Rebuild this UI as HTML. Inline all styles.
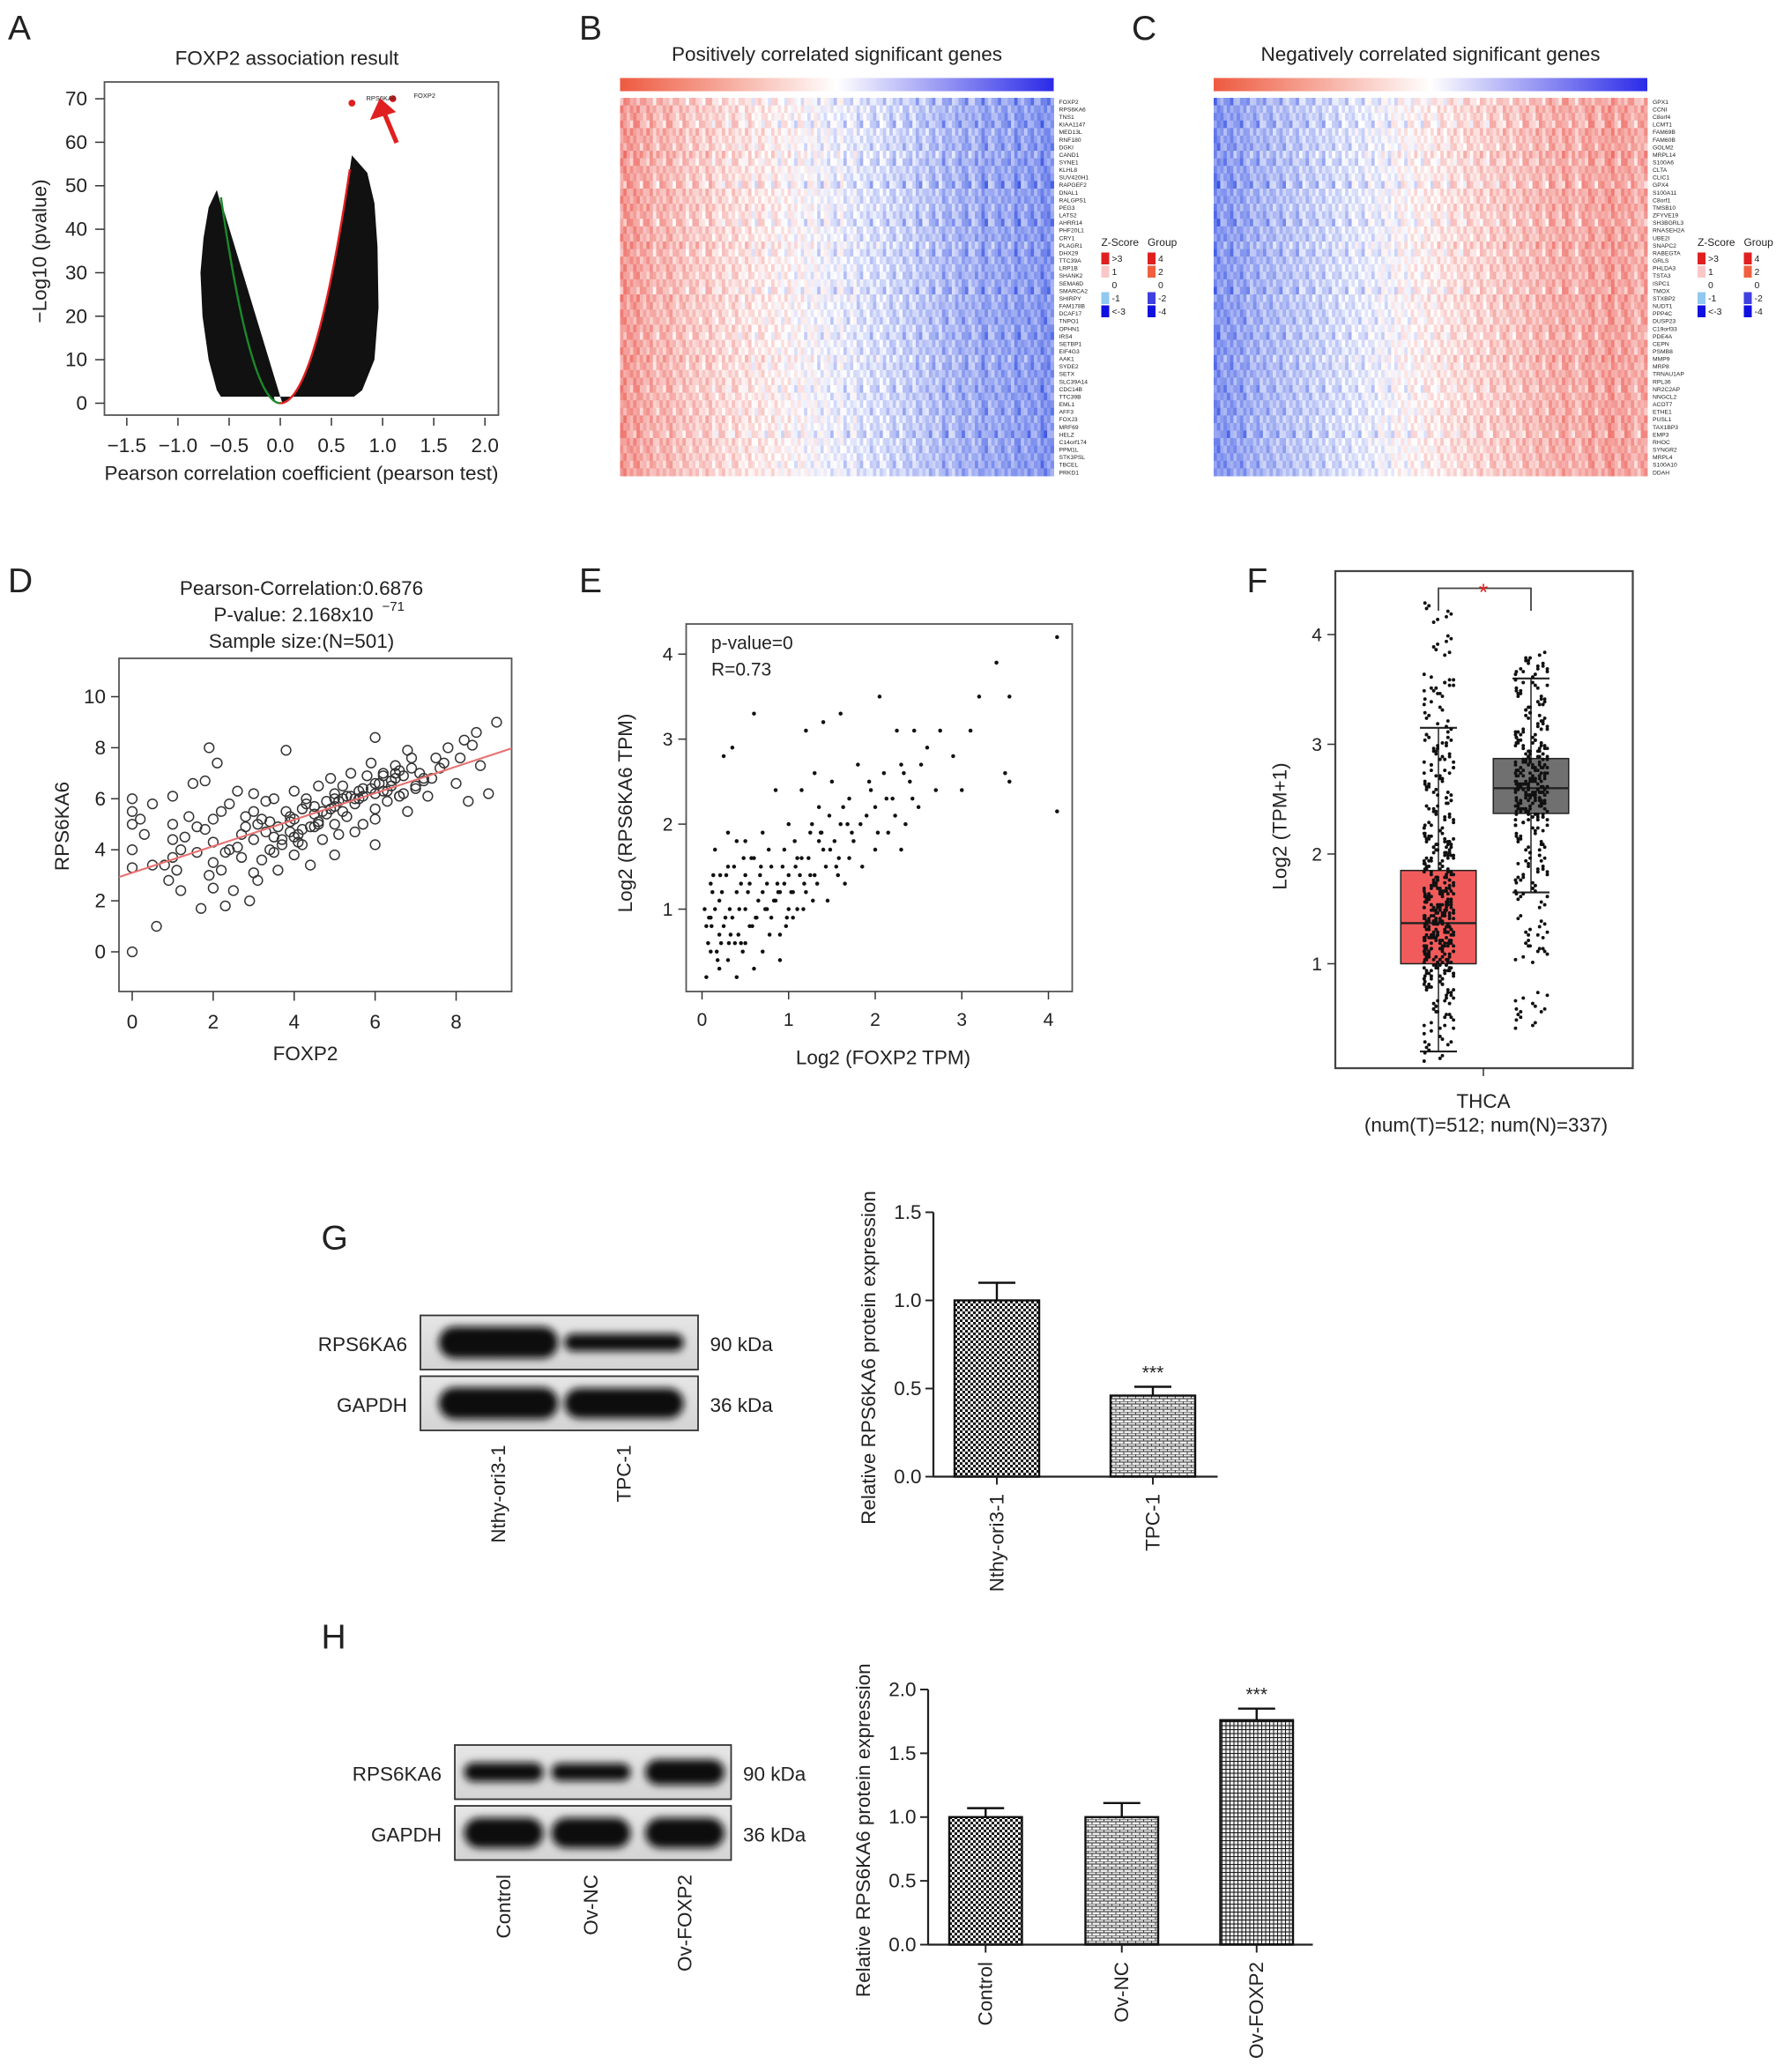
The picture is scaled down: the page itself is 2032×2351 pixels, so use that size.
<!DOCTYPE html>
<html><head><meta charset="utf-8"><style>
html,body{margin:0;padding:0;background:#fff}
svg{display:block}
text{font-family:"Liberation Sans",sans-serif;fill:#222}
</style></head><body>
<svg id="fig" xmlns="http://www.w3.org/2000/svg" width="2032" height="2351" viewBox="0 0 1354.67 1567.33" preserveAspectRatio="none">
<defs>
<filter id="blur" x="-20%" y="-50%" width="140%" height="200%"><feGaussianBlur stdDeviation="3"/></filter>
<pattern id="pat-check" width="4" height="4" patternUnits="userSpaceOnUse"><rect width="4" height="4" fill="#fff"/><rect width="2" height="2" fill="#111"/><rect x="2" y="2" width="2" height="2" fill="#111"/></pattern>
<pattern id="pat-brick" width="6" height="4" patternUnits="userSpaceOnUse"><rect width="6" height="4" fill="#eee"/><path d="M0 0H6M0 2H6M1 0V2M4 2V4" stroke="#444" stroke-width="0.7"/></pattern>
<pattern id="pat-grid" width="3" height="3" patternUnits="userSpaceOnUse"><rect width="3" height="3" fill="#eee"/><path d="M0 0H3M0 0V3" stroke="#111" stroke-width="1.3"/></pattern>
<linearGradient id="grad-bar" x1="0" x2="1"><stop offset="0" stop-color="#ee5a40"/><stop offset="0.5" stop-color="#fff"/><stop offset="1" stop-color="#2a2ae8"/></linearGradient>
<linearGradient id="blot-bg" x1="0" x2="0" y1="0" y2="1"><stop offset="0" stop-color="#e6e6e6"/><stop offset="1" stop-color="#d4d4d4"/></linearGradient>
</defs>
<g id="root"></g>
</svg>
<script>
// ---------- DATA ----------
const volcLeftOuter = [[-0.62,49],[-0.7,45],[-0.75,38],[-0.78,30],[-0.76,20],[-0.7,10],[-0.62,3],[-0.58,1.5]];
const volcRightOuter = [[0.85,53],[0.92,46],[0.95,36],[0.96,22],[0.92,10],[0.8,3],[0.72,1.5]];
const volcTopPoints = [[0.7,69],[1.1,70]];
const heatColsB = [1.5,1.3,1.4,1.1,1.2,0.9,1.0,1.1,0.8,0.9,0.7,0.8,0.6,0.8,0.5,0.6,0.4,0.6,0.3,0.5,0.2,0.4,0.2,0.3,0.1,0.2,0.0,0.1,-0.1,0.0,-0.2,-0.1,-0.3,-0.1,-0.4,-0.2,-0.5,-0.3,-0.6,-0.4,-0.5,-0.7,-0.5,-0.8,-0.6,-0.9,-0.7,-1.0,-0.8,-1.2,-0.9,-1.1,-1.3,-1.0,-1.2,-1.5,-1.1,-1.3,-1.4,-1.2,-1.6,-1.3,-1.5,-1.4,-1.7,-1.5];
const heatColsC = [-1.7,-1.4,-1.5,-1.3,-1.4,-1.1,-1.2,-1.0,-1.1,-0.9,-1.0,-0.8,-0.9,-0.7,-0.8,-0.6,-0.7,-0.5,-0.6,-0.4,-0.5,-0.3,-0.4,-0.2,-0.3,-0.1,-0.2,0.0,0.1,0.0,0.2,0.1,0.3,0.2,0.4,0.3,0.5,0.4,0.6,0.5,0.7,0.5,0.8,0.6,0.9,0.7,0.8,1.0,0.8,1.1,0.9,1.2,1.0,1.3,1.1,0.9,1.2,1.4,1.0,1.3,1.5,1.1,1.4,1.2,1.0,1.3];
const heatRows = [0.3,-0.2,0.1,0.4,-0.3,0.0,0.2,-0.4,0.3,-0.1,0.1,0.5,-0.2,0.0,-0.3,0.2,0.4,-0.1,0.1,-0.4,0.3,0.0,-0.2,0.2,-0.1,0.4,-0.3,0.1,0.0,0.2,-0.2,0.3,-0.1,0.1,-0.4,0.2,0.0,-0.2,0.3,0.1,-0.1,0.2,-0.3,0.0,0.4,-0.2,0.1,-0.1,0.2,0.0];
const genesB = ["FOXP2","RPS6KA6","TNS1","KIAA1147","MED13L","RNF180","DGKI","CAND1","SYNE1","KLHL8","SUV420H1","RAPGEF2","DNAL1","RALGPS1","PEG3","LATS2","AHRR14","PHF20L1","CRY1","PLAGR1","DHX29","TTC39A","LRP1B","SHANK2","SEMA6D","SMARCA2","SHIRPY","FAM178B","DCAF17","TNPO1","OPHN1","IRS4","SETBP1","EIF4G3","AAK1","SYDE2","SETX","SLC39A14","CDC14B","TTC39B","EML1","AFF3","FOXJ3","MRF69","HELZ","C14orf174","PPM1L","STK3PSL","TBCEL","PRKD1"];
const genesC = ["GPX1","CCNI","C8orf4","LCMT1","FAM69B","FAM60B","GOLM2","MRPL14","S100A6","CLTA","CLIC1","GPX4","S100A11","C8orf1","TMSB10","ZFYVE19","SH3BGRL3","RNASEH2A","UBE2I","SNAPC2","RABEGTA","GRLS","PHLDA3","TSTA3","ISPC1","TMOX","STXBP2","NUDT1","PPP4C","DUSP23","C19orf33","PDE4A","CEPN","PSMB8","MMP9","MRP8","TRNAU1AP","RPL36","NR2C2AP","NNGCL2","ACOT7","ETHE1","PUSL1","TAX1BP3","EMP3","RHOC","SYNGR2","MRPL4","S100A10","DDAH"];
const scatD_x = [0,0,0,0,0,0,0.3,0.5,0.6,0.5,0.9,1,1,1,1,1.2,1.2,1.4,1.5,1.6,1.7,1.8,1.8,1.9,2,2,2,2,2.1,2.2,2.3,2.4,2.4,2.5,2.6,2.7,2.8,2.9,3,3,3,3,3.1,3.2,3.3,3.4,3.5,3.6,3.7,3.8,3.8,3.9,4,4,4,4.1,4.2,4.3,4.4,4.5,4.5,4.6,4.7,4.8,4.9,5,5,5,5,5.1,5.2,5.3,5.4,5.5,5.5,5.6,5.7,5.8,5.9,6,6,6,6,6.1,6.2,6.3,6.4,6.5,6.5,6.6,6.7,6.8,6.9,7,7.1,7.3,7.5,7.8,8,8.2,8.4,8.6,8.8,9,8.3,4.2,3.5,4.8,5.6,6.2,2.6,1.6,3.3,4.6,5.2,5.9,6.6,7.2,3.9,4.4,5.3,6.4,2.8,0.2,
 3.4,3.6,3.9,4.1,4.3,4.6,4.9,5.1,5.4,5.7,6.0,6.3,6.6,6.9,7.2,3.2,3.7,4.2,4.7,5.2,5.7,6.2,6.7,7.4,7.7,2.3,2.7,3.1,3.5,4.0,4.5,5.0,5.5,6.0,6.5,1.3,1.9,2.2,7.0,7.6,8.1,8.5,0.8,1.1,6.8];
const scatD_y = [0,3.3,4,5,5.5,6,4.6,5.8,1,3.4,2.8,3.7,4.4,5,6.1,2.4,4,5.3,6.6,3.9,1.7,4.8,6.7,8,2.5,3.5,4.3,5.2,7.4,3.2,1.8,4,5.8,2.4,6.3,3.7,4.9,2,3.1,4.4,5.5,6.2,2.8,3.6,4.7,5.1,6,3.2,4.2,5.5,7.9,4.7,3.8,5.2,6.3,4.3,5.6,6,3.4,4.9,5.4,6.5,4.4,5.9,6.8,3.8,5,5.7,6.2,4.6,6.5,5.3,7,4.7,5.8,6.3,5,6.9,7.4,4.2,5.6,6.2,8.4,6.6,7,5.9,6.5,7.3,6.8,6.1,6.9,5.5,7.6,6.4,7,6.1,7.6,8,6.6,8.3,8.1,7.3,6.2,9,5.9,4.2,4.5,5.4,6,6.3,4.1,4.9,5.9,5.1,5.5,6.4,6.1,6.8,5.1,4.9,6.1,6.7,5.3,5.2,
 4.0,4.9,5.3,4.6,5.8,5.0,5.6,5.9,6.1,6.4,6.6,6.3,7.1,7.2,6.7,5.2,4.4,4.8,5.5,6.0,6.1,6.9,6.2,6.8,7.4,3.9,4.6,5.0,3.9,4.5,5.7,6.0,6.0,5.2,7.0,4.5,3.0,5.5,6.5,7.2,7.6,8.6,3.4,3.2,7.9];
const corrLine = [3.1,0.52];
const scatE_x = [0.05,0.1,0.1,0.1,0.15,0.2,0.2,0.25,0.3,0.3,0.35,0.35,0.4,0.4,0.45,0.5,0.5,0.55,0.6,0.6,0.65,0.7,0.7,0.75,0.8,0.8,0.85,0.9,0.9,0.95,1,1,1,1.05,1.1,1.15,1.2,1.2,1.25,1.3,1.35,1.4,1.4,1.45,1.5,1.55,1.6,1.6,1.65,1.7,1.75,1.8,1.85,1.9,1.95,2,2,2.05,2.1,2.15,2.2,2.25,2.3,2.35,2.4,2.45,2.5,2.6,2.7,2.75,2.9,3,3.1,3.2,3.4,3.55,3.5,3.55,4.1,4.1,0.2,0.4,0.5,0.6,0.15,0.3,0.5,0.7,1.1,1.3,1.7,2.3,0.9,0.25,0.45,0.05,0.12,0.22,0.32,0.42,0.55,0.62,0.75,0.85,0.95,1.05,1.15,1.25,1.35,0.08,0.18,0.28,0.38,0.48,0.58,0.68,0.78,0.88,0.98,1.08,1.18,1.28,1.38,1.48,1.58,1.68,
 0.03,0.07,0.13,0.17,0.23,0.27,0.33,0.37,0.43,0.47,0.53,0.57,0.63,0.67,0.73,0.77,0.83,0.87,0.93,0.97,1.03,1.07,1.13,1.17,1.23,1.27,1.33,1.37,1.43,1.47,1.53,1.57,1.63,1.73,1.83,1.93,2.03,2.13,2.23,2.33,2.43,2.53,0.11,0.21,0.31];
const scatE_y = [0.2,0.5,0.9,1.3,1.7,0.7,1.1,2.8,0.4,1.5,0.9,2.9,1.2,1.8,0.6,1,1.4,0.8,3.3,1.6,1.1,0.5,1.9,1.3,0.9,1.5,2.4,1.2,0.7,1.7,1,2,1.4,0.9,1.6,2.4,1.2,3.1,1.9,1.4,2.2,3.2,1.7,1.1,2.5,1.5,2,3.3,1.3,2.3,1.8,2.7,1.5,2.1,2.4,1.7,2.2,3.5,2.6,1.9,2.3,3.1,2.7,2,2.5,3.1,2.2,2.9,2.4,3.1,2.8,2.4,3.1,3.5,3.9,3.5,2.6,2.5,4.2,2.15,0.3,0.2,0.6,0.3,1.0,1.9,1.8,1.2,1,2.6,1.6,1.7,0.4,0.8,1.3,0.8,1.2,0.6,1.0,0.7,1.3,0.9,1.0,1.1,1.3,1.2,1.6,1.4,1.8,0.9,0.4,1.4,0.6,1.6,0.8,1.5,0.7,1.2,0.9,1.5,1.3,1.1,1.9,1.7,1.6,2.0,
 1.0,0.6,1.4,0.5,1.2,0.9,0.7,1.5,1.0,0.5,1.2,1.6,0.9,1.4,1.0,1.7,1.1,1.3,1.5,0.8,1.2,1.8,1.4,1.0,1.6,2.0,1.3,1.9,1.5,2.1,1.8,1.4,2.2,1.9,2.0,2.5,1.9,2.3,2.1,2.6,2.3,2.7,0.8,1.4,0.6];
const boxCats = ["Tumor","Normal"];
const boxQ1 = [1.0,2.37], boxMed=[1.37,2.6], boxQ3=[1.85,2.87], boxLo=[0.2,1.65], boxHi=[3.15,3.6];
const jitT = [0.2,0.35,0.5,0.6,0.7,0.8,0.85,0.9,0.95,1.0,1.05,1.1,1.15,1.2,1.25,1.3,1.35,1.4,1.45,1.5,1.55,1.6,1.65,1.7,1.75,1.8,1.85,1.9,1.95,2.0,2.05,2.1,2.15,2.2,2.3,2.4,2.5,2.6,2.7,2.8,2.9,3.0,3.1,3.3,3.5,3.55,3.9,4.2,1.1,1.2,1.3,1.4,1.5,1.6,1.0,0.9,1.7,1.25,1.35,1.45];
const jitN = [0.5,0.65,1.1,1.2,1.35,1.6,1.7,1.8,1.9,2.0,2.1,2.2,2.3,2.35,2.4,2.45,2.5,2.55,2.6,2.65,2.7,2.75,2.8,2.85,2.9,2.95,3.0,3.05,3.1,3.2,3.3,3.4,3.5,3.6,3.7,3.75,2.5,2.6,2.7,2.4,2.8,2.55,2.65];
const jitOff = [-0.9,0.4,-0.3,0.8,-0.6,0.1,0.95,-0.15,0.5,-0.75,0.25,-0.45,0.7,-0.05,0.6,-0.85];
const gCats = ["Nthy-ori3-1","TPC-1"], gVals=[1.0,0.46], gErr=[0.1,0.05], gTicks=[0,0.5,1.0,1.5];
const hCats = ["Control","Ov-NC","Ov-FOXP2"], hVals=[1.0,1.0,1.76], hErr=[0.07,0.11,0.09], hTicks=[0,0.5,1.0,1.5,2.0];
const blotG_RPS = [1.0,0.55], blotG_GAP=[1.0,0.95];
const blotH_RPS = [0.6,0.55,0.8], blotH_GAP=[0.95,0.95,0.95];

// ---------- HELPERS ----------
const NS="http://www.w3.org/2000/svg";
const root=document.getElementById('root');
function mk(tag,attrs,parent,txt){const e=document.createElementNS(NS,tag);for(const k in attrs)e.setAttribute(k,attrs[k]);if(txt!==undefined)e.textContent=txt;(parent||root).appendChild(e);return e;}
function grp(name){const g=mk('g',{});


return g;}
function label(t,x,y,size,opts,parent,name){const e=mk('text',Object.assign({x:x,y:y,'font-size':size},opts||{}),parent,t);


return e;}
function lin(d0,d1,r0,r1){return v=>r0+(v-d0)*(r1-r0)/(d1-d0);}

[["A",6,30],["B",438,30],["C",856,30],["D",6,448],["E",438,448],["F",943,448],["G",243,945],["H",243,1247]].forEach(p=>{
 label(p[0],p[1],p[2],26,{},root,'panel-letter-'+p[0].toLowerCase());
});

// ---------- PANEL A ----------
(function(){
 const g=grp('volcano-plot');
 const X=lin(0,0.5,212,250.7), Y=lin(0,10,305,272.1);
 label("FOXP2 association result",217,49,15,{'text-anchor':'middle'},g,'volcano-title');
 const box=mk('rect',{x:79,y:62,width:298,height:252,fill:'none',stroke:'#555','stroke-width':1.2},g);
 
 [-1.5,-1.0,-0.5,0,0.5,1.0,1.5,2.0].forEach(v=>{mk('line',{x1:X(v),x2:X(v),y1:316,y2:322,stroke:'#333'},g);
  label((v<0?'\u2212':'')+Math.abs(v).toFixed(1),X(v),342,15,{'text-anchor':'middle'},g,'x-tick-label');});
 [0,10,20,30,40,50,60,70].forEach(v=>{mk('line',{x1:72,x2:79,y1:Y(v),y2:Y(v),stroke:'#333'},g);
  label(String(v),66,Y(v)+5,15,{'text-anchor':'end'},g,'y-tick-label');});
 label("Pearson correlation coefficient (pearson test)",228,363,15,{'text-anchor':'middle'},g,'x-axis-title');
 label("\u2212Log10 (pvalue)",35,190,15,{'text-anchor':'middle',transform:'rotate(-90 35 190)'},g,'y-axis-title');
 const gl=[-0.59,49], kl=gl[1]/(gl[0]*gl[0]);
 let pts=volcLeftOuter.map(p=>X(p[0])+','+Y(p[1]));
 for(let v=-0.05;v>=-0.59;v-=0.04){pts.unshift(X(v)+','+Y(kl*v*v));}
 pts.push(X(0)+','+Y(1.5));
 const pl=mk('polygon',{points:pts.join(' '),fill:'#111'},g);
 const kr=57/(0.7*0.7);
 let pr=volcRightOuter.map(p=>X(p[0])+','+Y(p[1]));
 for(let v=0.7;v>=0;v-=0.04){pr.unshift(X(v)+','+Y(kr*v*v));}
 pr.push(X(0)+','+Y(1.5));
 const pp=mk('polygon',{points:pr.join(' '),fill:'#111'},g);
 let dg='',dr='';
 for(let v=0;v>=-0.59;v-=0.02)dg+=(dg?'L':'M')+X(v)+' '+Y(kl*v*v);
 for(let v=0;v<=0.7;v+=0.02)dr+=(dr?'L':'M')+X(v)+' '+Y(kr*v*v);
 const c1=mk('path',{d:dg,stroke:'#1a8a2a','stroke-width':1.6,fill:'none'},g);
 const c2=mk('path',{d:dr,stroke:'#e02020','stroke-width':1.6,fill:'none'},g);
 volcTopPoints.forEach(p=>{const c=mk('circle',{cx:X(p[0]),cy:Y(p[1]),r:2.6,fill:'#e02020'},g);
  });
 label("RPS6KA6",277,76,5,{},g,'gene-label-rps6ka6');label("FOXP2",313,74,5,{},g,'gene-label-foxp2');
 const ar=mk('path',{d:'M300 108 L290 84 M283 88 L288 77 L296 84 Z',stroke:'#e02020','stroke-width':3.5,fill:'#e02020'},g);
 
})();

// ---------- HEATMAPS ----------
function heat(name,x0,title,cols,genes,legendX){
 const g=grp(name);
 const w=328, y0=74, h=286;
 label(title,x0+w/2,46,15,{'text-anchor':'middle'},g,'heatmap-title');
 const cb=mk('rect',{x:x0,y:59,width:w,height:10,fill:'url(#grad-bar)'},g);
 const nc=cols.length*2, cw=w/nc, rh=h/heatRows.length;
 function col(z){z=Math.max(-2.2,Math.min(2.2,z));const t=Math.abs(z)/2.2;
  if(z>=0)return `rgb(${Math.round(255-(255-232)*t)},${Math.round(255-(255-60)*t)},${Math.round(255-(255-50)*t)})`;
  return `rgb(${Math.round(255-(255-40)*t)},${Math.round(255-(255-70)*t)},${Math.round(255-(255-225)*t)})`;}
 for(let r=0;r<heatRows.length;r++)for(let c=0;c<nc;c++){
  const base=cols[c>>1];
  const k=(c*7+r*3)%5;
  const z=base+heatRows[r]*((k%3)-1)+(k-2)*0.18;
  const e=mk('rect',{x:x0+c*cw,y:y0+r*rh,width:cw+0.3,height:rh+0.3,fill:col(z*0.8)},g);
  
  
 }
 genes.forEach((s,i)=>label(s,x0+w+4,y0+i*rh+rh*0.8,4.5,{},g,'gene-label'));
 label("Z-Score",legendX,186,8,{},g,'zscore-legend-title');label("Group",legendX+35,186,8,{},g,'group-legend-title');
 const zc=['#e02020','#f8c8c8','#ffffff','#90c8f0','#1010e0'], gc=['#e02020','#f06040','#ffffff','#4040e0','#1010e0'];
 const zl=['>3','1','0','-1','<-3'], gl2=['4','2','0','-2','-4'];
 zc.forEach((c,i)=>{const r=mk('rect',{x:legendX,y:191+i*10,width:6,height:9,fill:c},g);
  label(zl[i],legendX+8,198+i*10,7,{},g,'zscore-legend-label');});
 gc.forEach((c,i)=>{const r=mk('rect',{x:legendX+35,y:191+i*10,width:6,height:9,fill:c},g);
  label(gl2[i],legendX+43,198+i*10,7,{},g,'group-legend-label');});
}
heat('positive-heatmap',469,"Positively correlated significant genes",heatColsB,genesB,833);
heat('negative-heatmap',918,"Negatively correlated significant genes",heatColsC,genesC,1284);

// ---------- PANEL D ----------
(function(){
 const g=grp('scatter-d');
 const X=lin(0,2,100,161.25), Y=lin(0,2,720,681.4);
 label("Pearson-Correlation:0.6876",228,450,15,{'text-anchor':'middle'},g,'correlation-title');
 label("P-value: 2.168x10",222,470,15,{'text-anchor':'middle'},g,'pvalue-title');
 label("\u221271",289,462,10,{},g,'pvalue-exponent');
 label("Sample size:(N=501)",228,490,15,{'text-anchor':'middle'},g,'sample-size-title');
 const b=mk('rect',{x:90,y:498,width:297,height:252,fill:'none',stroke:'#555','stroke-width':1.2},g);
 [0,2,4,6,8,10].forEach(v=>{mk('line',{x1:84,x2:90,y1:Y(v),y2:Y(v),stroke:'#333'},g);label(String(v),80,Y(v)+5,15,{'text-anchor':'end'},g,'y-tick-label');});
 [0,2,4,6,8].forEach(v=>{mk('line',{x1:X(v),x2:X(v),y1:750,y2:757,stroke:'#333'},g);label(String(v),X(v),778,15,{'text-anchor':'middle'},g,'x-tick-label');});
 label("FOXP2",231,802,15,{'text-anchor':'middle'},g,'x-axis-title');
 label("RPS6KA6",52,625,15,{'text-anchor':'middle',transform:'rotate(-90 52 625)'},g,'y-axis-title');
 scatD_x.forEach((x,i)=>{const c=mk('circle',{cx:X(x),cy:Y(scatD_y[i]),r:3.6,fill:'none',stroke:'#333','stroke-width':1},g);
  });
 const l=mk('line',{x1:90,y1:Y(corrLine[0]+corrLine[1]*((90-100)/30.625)),x2:387,y2:Y(corrLine[0]+corrLine[1]*((387-100)/30.625)),stroke:'#e87070','stroke-width':1.4},g);
 
})();

// ---------- PANEL E ----------
(function(){
 const g=grp('scatter-e');
 const X=lin(0,1,531,596.5), Y=lin(0,1,752,687.7);
 const b=mk('rect',{x:519,y:472,width:292,height:278,fill:'none',stroke:'#555','stroke-width':1.2},g);
 [1,2,3,4].forEach(v=>{mk('line',{x1:513,x2:519,y1:Y(v),y2:Y(v),stroke:'#333'},g);label(String(v),509,Y(v)+5,14,{'text-anchor':'end'},g,'y-tick-label');});
 [0,1,2,3,4].forEach(v=>{mk('line',{x1:X(v),x2:X(v),y1:750,y2:756,stroke:'#333'},g);label(String(v),X(v),776,14,{'text-anchor':'middle'},g,'x-tick-label');});
 label("Log2 (FOXP2 TPM)",668,805,15,{'text-anchor':'middle'},g,'x-axis-title');
 label("Log2 (RPS6KA6 TPM)",478,615,15,{'text-anchor':'middle',transform:'rotate(-90 478 615)'},g,'y-axis-title');
 label("p-value=0",538,491,14,{},g,'pvalue-text');label("R=0.73",538,511,14,{},g,'r-text');
 scatE_x.forEach((x,i)=>{const c=mk('circle',{cx:X(x),cy:Y(scatE_y[i]),r:1.5,fill:'#111'},g);
  });
})();

// ---------- PANEL F ----------
(function(){
 const g=grp('boxplot-f');
 const Y=lin(1,4,729,480);
 const cx=[1088,1158], bw=57;
 const b=mk('rect',{x:1010,y:432,width:225,height:376,fill:'none',stroke:'#444','stroke-width':1.5},g);
 [1,2,3,4].forEach(v=>{mk('line',{x1:1004,x2:1010,y1:Y(v),y2:Y(v),stroke:'#333'},g);label(String(v),1000,Y(v)+5,14,{'text-anchor':'end'},g,'y-tick-label');});
 mk('line',{x1:1122,x2:1122,y1:808,y2:814,stroke:'#333'},g);
 label("Log2 (TPM+1)",973,625,15,{'text-anchor':'middle',transform:'rotate(-90 973 625)'},g,'y-axis-title');
 label("THCA",1122,838,15,{'text-anchor':'middle'},g,'category-label');
 label("(num(T)=512; num(N)=337)",1124,856,15,{'text-anchor':'middle'},g,'sample-count-label');
 const fills=['#f25b5b','#707070'];
 boxCats.forEach((c,i)=>{
  const w=mk('line',{x1:cx[i],x2:cx[i],y1:Y(boxHi[i]),y2:Y(boxLo[i]),stroke:'#222','stroke-width':1},g);
  [boxHi[i],boxLo[i]].forEach(v=>mk('line',{x1:cx[i]-14,x2:cx[i]+14,y1:Y(v),y2:Y(v),stroke:'#222','stroke-width':1.4},g));
  const r=mk('rect',{x:cx[i]-bw/2,y:Y(boxQ3[i]),width:bw,height:Y(boxQ1[i])-Y(boxQ3[i]),fill:fills[i],stroke:'#222','stroke-width':1},g);
  
  const m=mk('line',{x1:cx[i]-bw/2,x2:cx[i]+bw/2,y1:Y(boxMed[i]),y2:Y(boxMed[i]),stroke:'#222','stroke-width':1.6},g);
 });
 [[jitT,0],[jitN,1]].forEach(([arr,i])=>{
  for(let rep=0;rep<8;rep++)arr.forEach((v,k)=>{
   const vv=v+(rep-3.5)*0.025*(k%3===0?1:-1);
   const d=mk('circle',{cx:cx[i]+jitOff[(k+rep*5)%jitOff.length]*(i?13:12),cy:Y(vv),r:1.3,fill:'#111'},g);
   
  });
 });
 const br=mk('path',{d:'M1088 462 V445 H1158 V462',fill:'none',stroke:'#444','stroke-width':1.2},g);
 label("*",1122,454,18,{'text-anchor':'middle',style:'fill:#e02020'},g,'significance-star');
})();

// ---------- BLOTS ----------
function blot(name,x0,w,y1,y2,lanes,rps,gap,laneNames,labelY){
 const g=grp(name);
 [[y1,rps,'RPS6KA6','90 kDa'],[y2,gap,'GAPDH','36 kDa']].forEach(([y,vals,nm,kd])=>{
  const r=mk('rect',{x:x0,y:y,width:w,height:41,fill:'url(#blot-bg)',stroke:'#333','stroke-width':1.2},g);
  vals.forEach((v,i)=>{const bh=24*v, bw=(w/lanes.length)*0.86;
   const b=mk('rect',{x:lanes[i]-bw/2,y:y+20.5-bh/2,width:bw,height:bh,rx:bh/2,fill:'#0a0a0a',filter:'url(#blur)'},g);
   });
  label(nm,x0-10,y+27,15,{'text-anchor':'end'},g,'blot-protein-label');
  label(kd,x0+w+9,y+27,15,{},g,'blot-kda-label');
 });
 laneNames.forEach((s,i)=>label(s,lanes[i]+5,labelY,15,{'text-anchor':'end',transform:`rotate(-90 ${lanes[i]+5} ${labelY})`},g,'lane-label'));
}
blot('western-blot-g',318,210,995,1041,[377,472],blotG_RPS,blotG_GAP,gCats,1093);
blot('western-blot-h',344,209,1320,1366,[381,447,518],blotH_RPS,blotH_GAP,hCats,1418);

// ---------- BAR CHARTS ----------
function bars(name,ax,yTop,yBot,maxV,xEnd,cats,vals,err,ticks,bx,bw,pats,labelY,sig){
 const g=grp(name);
 const Y=lin(0,maxV,yBot,yTop);
 mk('line',{x1:ax,x2:ax,y1:yTop,y2:yBot,stroke:'#222','stroke-width':1.5},g);
 mk('line',{x1:ax,x2:xEnd,y1:yBot,y2:yBot,stroke:'#222','stroke-width':1.5},g);
 ticks.forEach(v=>{mk('line',{x1:ax-6,x2:ax,y1:Y(v),y2:Y(v),stroke:'#222','stroke-width':1.3},g);label(v.toFixed(1),ax-9,Y(v)+5,15,{'text-anchor':'end'},g,'y-tick-label');});
 const mid=(yTop+yBot)/2+10;
 label("Relative RPS6KA6 protein expression",ax-44,mid,15,{'text-anchor':'middle',transform:`rotate(-90 ${ax-44} ${mid})`},g,'y-axis-title');
 cats.forEach((c,i)=>{
  const cx=bx[i]+bw/2;
  const r=mk('rect',{x:bx[i],y:Y(vals[i]),width:bw,height:yBot-Y(vals[i]),fill:pats[i],stroke:'#111','stroke-width':1.6},g);
  
  const e=mk('path',{d:`M${cx} ${Y(vals[i])} V${Y(vals[i]+err[i])} M${cx-14} ${Y(vals[i]+err[i])} H${cx+14}`,stroke:'#111','stroke-width':1.6,fill:'none'},g);
  
  mk('line',{x1:cx,x2:cx,y1:yBot,y2:yBot+6,stroke:'#222','stroke-width':1.3},g);
  label(c,cx+5,labelY,15,{'text-anchor':'end',transform:`rotate(-90 ${cx+5} ${labelY})`},g,'x-category-label');
  if(sig[i])label("***",cx,Y(vals[i]+err[i])-6,14,{'text-anchor':'middle'},g,'significance-marker');
 });
}
bars('bar-chart-g',706,917,1117,1.5,921,gCats,gVals,gErr,gTicks,[722,840],64,['url(#pat-check)','url(#pat-brick)'],1130,[0,1]);
bars('bar-chart-h',702,1278,1471,2.0,993,hCats,hVals,hErr,hTicks,[718,821,923],55,['url(#pat-check)','url(#pat-brick)','url(#pat-grid)'],1484,[0,0,1]);
</script>
</body></html>
